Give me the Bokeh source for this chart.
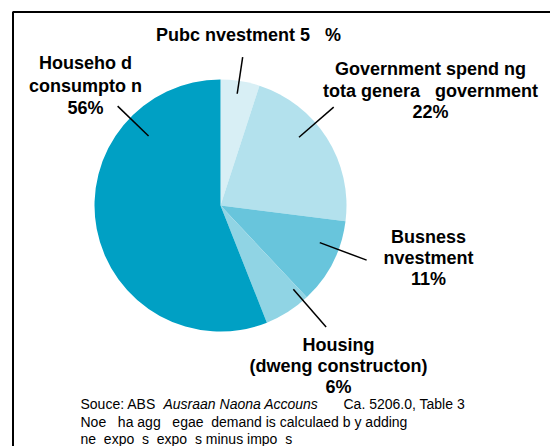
import math
from bokeh.plotting import figure
from bokeh.models import Range1d
from bokeh.core.properties import value
from bokeh.embed import file_html
from bokeh.resources import INLINE

NB = "\u00a0"

# ---- data ----
categories = ["Public investment", "Government spending", "Business investment",
              "Housing", "Household consumption"]
shares = [5, 22, 11, 6, 56]
colors = ["#d8eff5", "#b3e1ed", "#68c5dc", "#90d4e4", "#00a0c4"]
label_lines = [
    ["Pubc nvestment 5" + NB * 3 + "%"],
    ["Government spend ng", "tota genera" + NB * 3 + "government", "22%"],
    ["Busness", "nvestment", "11%"],
    ["Housing", "(dweng constructon)", "6%"],
    ["Househo d", "consumpto n", "56%"],
]
source_lines = [
    [("Souce: ABS", "normal"), ("Ausraan Naona Accouns", "italic"), ("Ca. 5206.0, Table 3", "normal")],
    [("Noe" + NB * 3 + "ha agg" + NB * 3 + "egae" + NB * 2 + "demand is calculaed b y adding", "normal")],
    [("ne" + NB * 2 + "expo" + NB * 2 + "s" + NB * 2 + "expo" + NB * 2 + "s minus impo" + NB * 2 + "s", "normal")],
]

# ---- layout (page pixel positions) ----
W, H = 550, 446
def px(X):
    return X
def py(Y):
    return H - Y

cx, cy, R = 220, 205, 126
label_pos = [(248, [34]), (430, [68, 90, 111]), (428, [236, 257, 278]),
             (338, [344, 365, 386]), (85, [62, 85, 107])]
# leader lines: angle from 12 o'clock (deg, clockwise), inner radius, outer radius
leaders = [(8.5, 113, 150), (49, 104, 150), (110.5, 106, 156), (139, 111, 161), (314, 100, 143)]
source_x = [[80, 163, 343], [80], [80]]
source_y = [403, 421, 438]

p = figure(width=W, height=H, output_backend="svg", toolbar_location=None,
           x_range=Range1d(0, W), y_range=Range1d(0, H), min_border=0)
p.axis.visible = False
p.grid.visible = False
p.outline_line_color = None
p.background_fill_color = "white"

# frame border (top and left visible)
p.line([px(12.5), px(12.5)], [py(11.5), py(470)], line_color="black", line_width=2)
p.line([px(12), px(570)], [py(11.5), py(11.5)], line_color="black", line_width=2)

total = sum(shares)
cum = 0.0
starts, ends = [], []
for s in shares:
    a0 = math.pi / 2 - 2 * math.pi * cum / total
    cum += s
    a1 = math.pi / 2 - 2 * math.pi * cum / total
    starts.append(a0)
    ends.append(a1)

p.wedge(x=[px(cx)] * len(shares), y=[py(cy)] * len(shares), radius=R,
        start_angle=starts, end_angle=ends, direction="clock",
        fill_color=colors, line_color=None)

# leader lines
xs, ys = [], []
for ang, r0, r1 in leaders:
    t = math.radians(ang)
    xs.append([px(cx + r0 * math.sin(t)), px(cx + r1 * math.sin(t))])
    ys.append([py(cy - r0 * math.cos(t)), py(cy - r1 * math.cos(t))])
p.multi_line(xs, ys, line_color="black", line_width=1.5)

# labels
for lines, (lx, lys) in zip(label_lines, label_pos):
    p.text(x=[px(lx)] * len(lines), y=[py(v) for v in lys], text=lines,
           text_font=value("Liberation Sans"), text_font_style="bold",
           text_font_size="18px", text_align="center", text_baseline="middle",
           text_color="black")

# source notes
for segs, xs_, yv in zip(source_lines, source_x, source_y):
    for (t, style), sx in zip(segs, xs_):
        p.text(x=[px(sx)], y=[py(yv)], text=[t], text_font=value("Liberation Sans"),
               text_font_style=style, text_font_size="14px", text_align="left",
               text_baseline="middle", text_color="black")

open("out.html", "w").write(file_html(p, INLINE))
